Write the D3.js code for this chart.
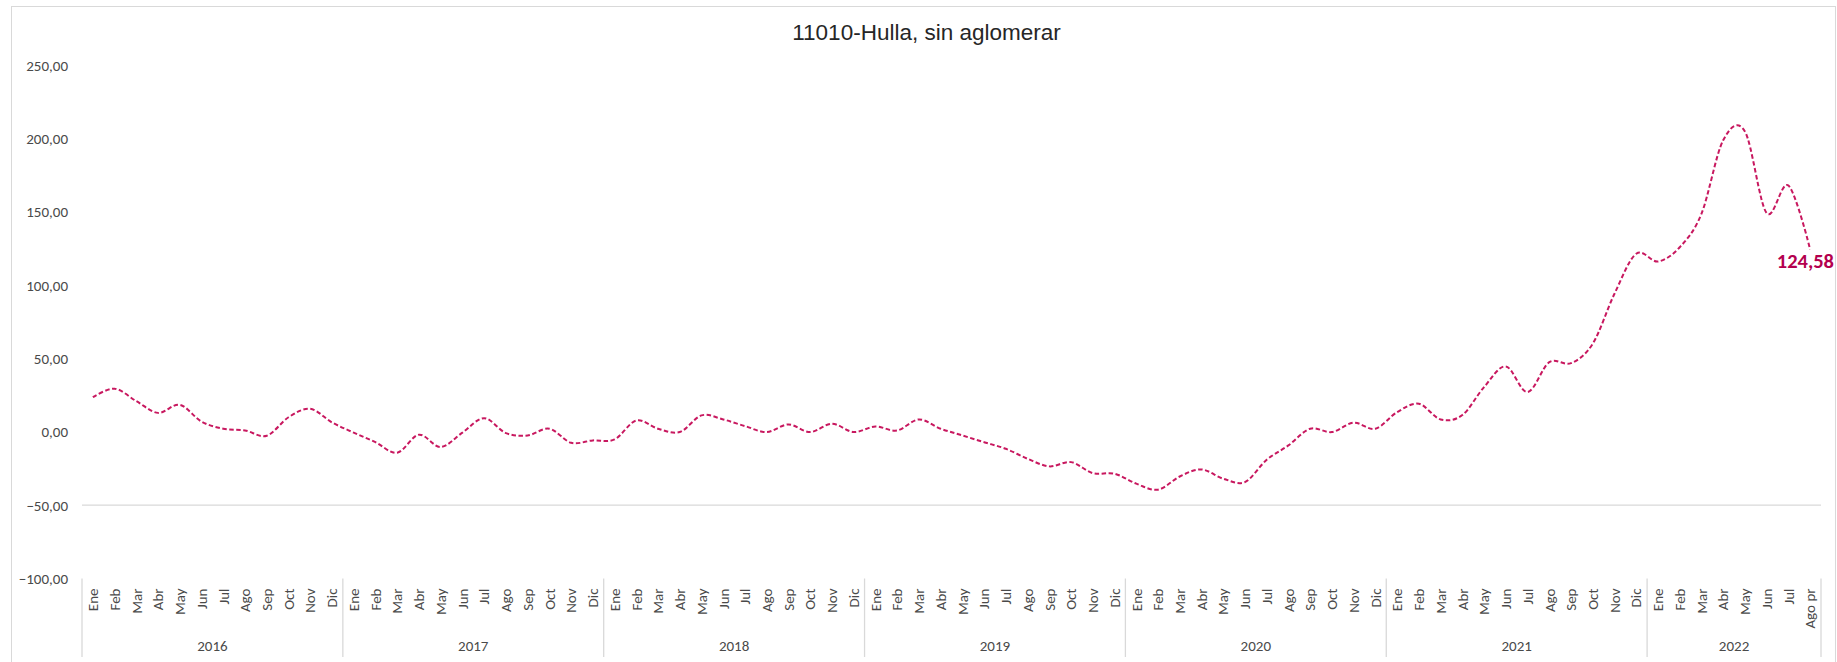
<!DOCTYPE html>
<html>
<head>
<meta charset="utf-8">
<script src="https://cdn.jsdelivr.net/npm/d3@7"></script>
<style>
  body { margin: 0; background: #fff; }
  svg { display: block; }
  .lbl { font-family: Carlito, Calibri, Lato, sans-serif; fill: #4a4a4a; }
</style>
</head>
<body>
<svg id="chart" width="1837" height="662"></svg>
<script>
// data
const years = ["2016", "2017", "2018", "2019", "2020", "2021", "2022"];
const monthNames = ["Ene", "Feb", "Mar", "Abr", "May", "Jun", "Jul", "Ago", "Sep", "Oct", "Nov", "Dic"];
const lastMonths = ["Ene", "Feb", "Mar", "Abr", "May", "Jun", "Jul", "Ago pr"];

const v2016 = [23.7, 29.5, 21.0, 13.0, 18.5, 7.0, 2.2, 1.0, -2.6, 10.0, 15.8, 6.5];
const v2017 = [-0.5, -7.0, -14.2, -1.9, -10.3, -0.5, 9.4, -0.8, -2.4, 2.2, -7.4, -5.8];
const v2018 = [-5.1, 7.8, 2.2, -0.1, 11.3, 8.5, 4.0, -0.1, 5.1, -0.1, 5.6, -0.1];
const v2019 = [3.7, 1.0, 8.5, 2.2, -2.4, -7.0, -11.5, -18.3, -23.5, -20.6, -28.1, -28.5];
const v2020 = [-35.3, -39.4, -30.4, -25.6, -31.9, -34.2, -19.0, -9.2, 2.2, -0.1, 6.3, 2.2];
const v2021 = [13.5, 19.2, 8.5, 11.5, 30.6, 44.7, 27.2, 47.6, 46.9, 60.2, 94.3, 121.6];
const v2022 = [116.3, 126.0, 148.8, 199.0, 205.0, 149.3, 168.1, 124.58];

const yTicks = [-100, -50, 0, 50, 100, 150, 200, 250];
const gridValues = [-50];
const title = "11010-Hulla, sin aglomerar";

// build the flat series
const series = [v2016, v2017, v2018, v2019, v2020, v2021, v2022];
const data = [];
series.forEach((vals, yi) => {
    const names = yi === series.length - 1 ? lastMonths : monthNames;
    vals.forEach((v, mi) => {
        data.push({ key: years[yi] + "-" + mi, year: years[yi], month: names[mi], value: v });
    });
});

const W = 1837, H = 662;
const plot = { left: 82, right: 1821, top: 65.5, bottom: 578.5 };

const svg = d3.select("#chart");
const esLocale = d3.formatLocale({ decimal: ",", thousands: ".", grouping: [3], currency: ["", " €"] });
const fmt = esLocale.format(".2f");

// outer chart border
svg.append("rect")
    .attr("x", 11.5).attr("y", 6.5)
    .attr("width", W - 13).attr("height", H)
    .attr("fill", "none")
    .attr("stroke", "#d9d9d9");

const x = d3.scaleBand()
    .domain(data.map(d => d.key))
    .range([plot.left, plot.right])
    .padding(0);

const y = d3.scaleLinear()
    .domain([-100, 250])
    .range([plot.bottom, plot.top]);

// title
svg.append("text")
    .attr("x", 926.5).attr("y", 40)
    .attr("text-anchor", "middle")
    .style("font-family", "'Liberation Sans', Arial, sans-serif")
    .style("font-size", "22.5px")
    .style("fill", "#262626")
    .text(title);

// gridline
svg.selectAll(".grid").data(gridValues).enter().append("line")
    .attr("class", "grid")
    .attr("x1", plot.left).attr("x2", plot.right)
    .attr("y1", d => y(d)).attr("y2", d => y(d))
    .attr("stroke", "#d9d9d9")
    .attr("stroke-width", 1.3);

// y axis
const yAxis = svg.append("g")
    .attr("transform", `translate(${plot.left},0)`)
    .call(d3.axisLeft(y).tickValues(yTicks).tickFormat(fmt).tickSize(0).tickPadding(14));
yAxis.attr("font-family", null);
yAxis.select(".domain").remove();
yAxis.selectAll("text")
    .attr("class", "lbl")
    .style("font-size", "15px");

// x axis: months rotated
const xAxis = svg.append("g")
    .attr("transform", `translate(0,${plot.bottom})`)
    .call(d3.axisBottom(x).tickSize(0).tickFormat(k => data.find(d => d.key === k).month));
xAxis.attr("font-family", null);
xAxis.select(".domain").remove();
xAxis.selectAll("text")
    .attr("class", "lbl")
    .style("font-size", "15px")
    .attr("text-anchor", "end")
    .attr("transform", "rotate(-90)")
    .attr("x", -10)
    .attr("y", 0)
    .attr("dy", "0.35em");

// year separators and labels
const yearBounds = years.map(yr => {
    const keys = data.filter(d => d.year === yr).map(d => d.key);
    return { year: yr, x0: x(keys[0]), x1: x(keys[keys.length - 1]) + x.bandwidth() };
});
const sepX = [yearBounds[0].x0].concat(yearBounds.map(b => b.x1));
svg.selectAll(".sep").data(sepX).enter().append("line")
    .attr("class", "sep")
    .attr("x1", d => d).attr("x2", d => d)
    .attr("y1", plot.bottom).attr("y2", 657)
    .attr("stroke", "#d9d9d9")
    .attr("stroke-width", 1.3);
svg.selectAll(".yr").data(yearBounds).enter().append("text")
    .attr("class", "lbl")
    .attr("x", d => (d.x0 + d.x1) / 2)
    .attr("y", 651)
    .attr("text-anchor", "middle")
    .style("font-size", "15px")
    .text(d => d.year);

// the series
const line = d3.line()
    .x(d => x(d.key) + x.bandwidth() / 2)
    .y(d => y(d.value))
    .curve(d3.curveCardinal.tension(0));

svg.append("path")
    .datum(data)
    .attr("d", line)
    .attr("fill", "none")
    .attr("stroke", "#c8185f")
    .attr("stroke-width", 2)
    .attr("stroke-dasharray", "4.5,2.5");

// last value label
const last = data[data.length - 1];
svg.append("text")
    .attr("x", 1834)
    .attr("y", y(last.value) + 19)
    .attr("text-anchor", "end")
    .style("font-family", "Carlito, Calibri, Lato, sans-serif")
    .style("font-weight", "bold")
    .style("font-size", "20.5px")
    .style("fill", "#b4004e")
    .text(fmt(last.value));
</script>
</body>
</html>
